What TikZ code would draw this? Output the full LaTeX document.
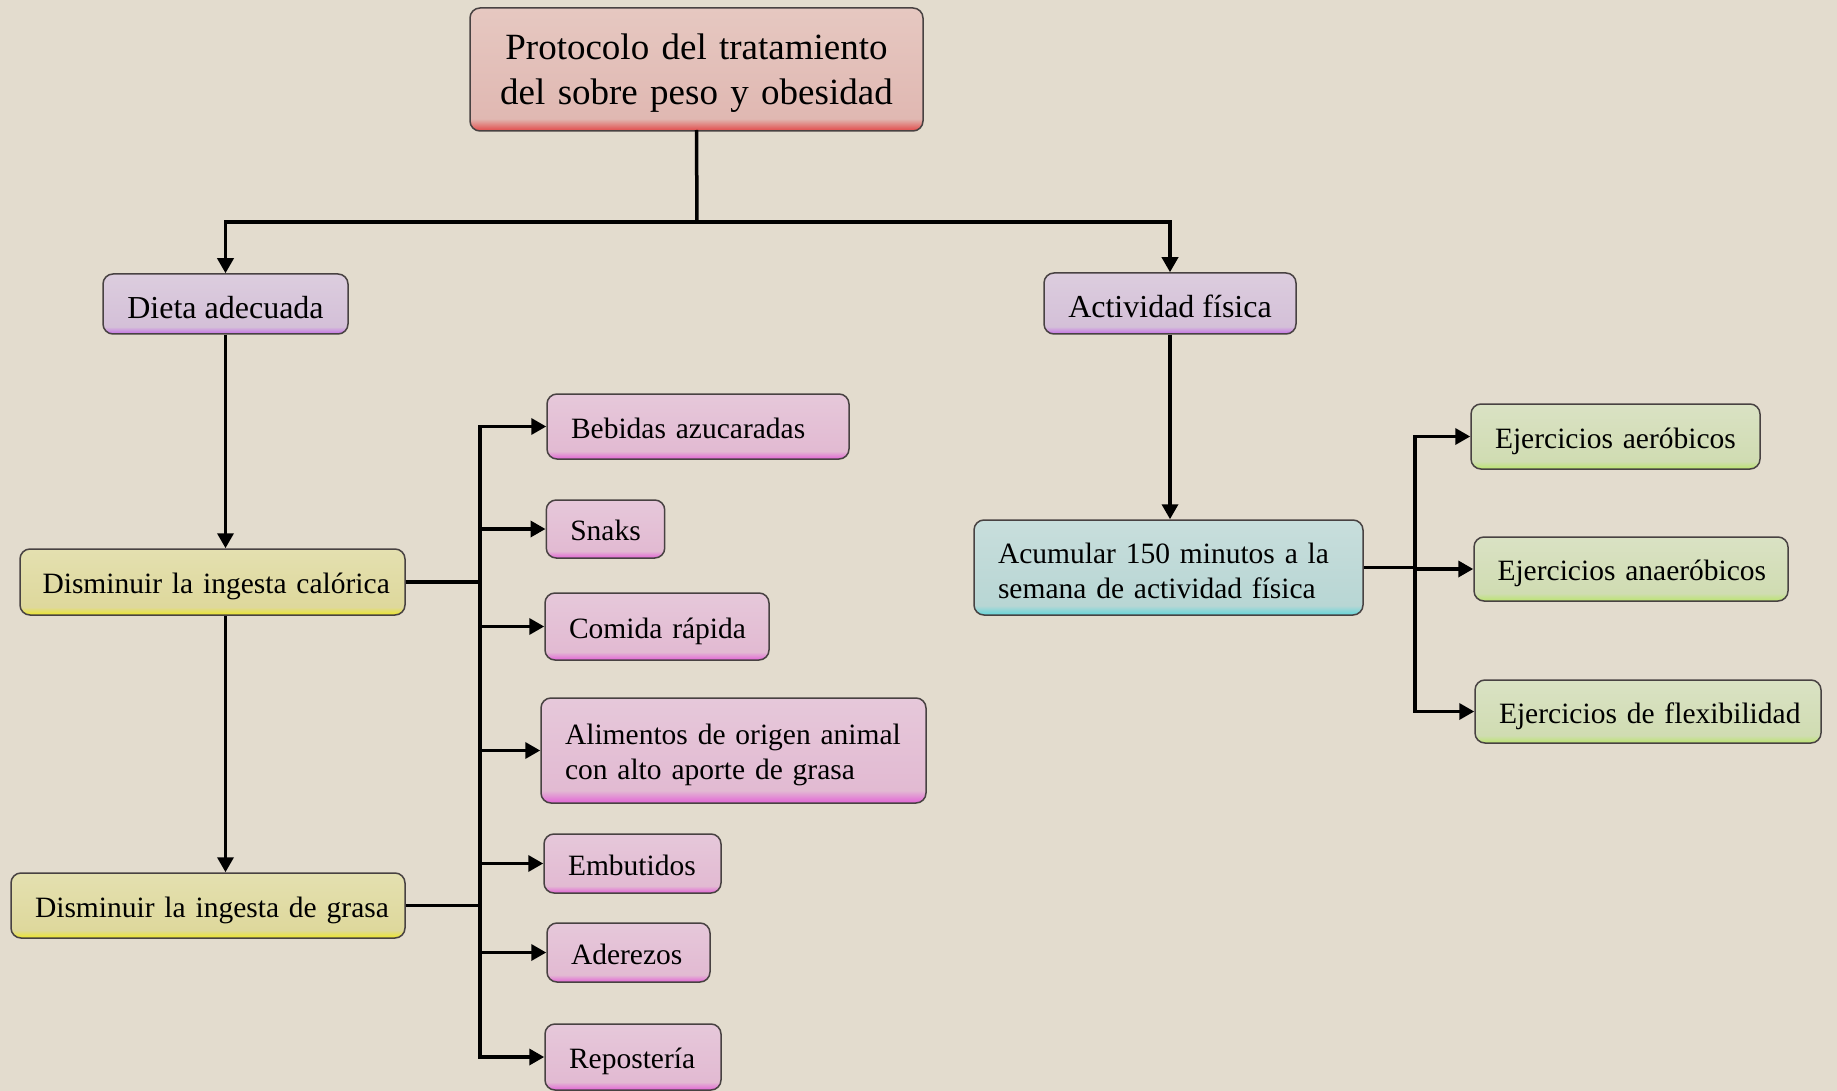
\documentclass[tikz,border=0pt]{standalone}
\usepackage{fontspec}
\setmainfont{Liberation Serif}
\usetikzlibrary{arrows.meta,calc}

\definecolor{bg}{RGB}{227,220,206}
\definecolor{edge}{RGB}{72,66,66}
% title (red)
\definecolor{tTop}{RGB}{230,200,193}
\definecolor{tBase}{RGB}{224,184,178}
\definecolor{tGlow}{RGB}{226,72,72}
% lavender
\definecolor{lTop}{RGB}{220,205,222}
\definecolor{lBase}{RGB}{212,192,216}
\definecolor{lGlow}{RGB}{196,110,230}
% pink
\definecolor{pTop}{RGB}{230,200,218}
\definecolor{pBase}{RGB}{226,186,210}
\definecolor{pGlow}{RGB}{226,100,214}
% yellow
\definecolor{yTop}{RGB}{228,224,176}
\definecolor{yBase}{RGB}{222,216,156}
\definecolor{yGlow}{RGB}{236,230,40}
% cyan
\definecolor{cTop}{RGB}{200,222,220}
\definecolor{cBase}{RGB}{184,214,212}
\definecolor{cGlow}{RGB}{100,214,218}
% green
\definecolor{gTop}{RGB}{218,226,196}
\definecolor{gBase}{RGB}{208,220,178}
\definecolor{gGlow}{RGB}{186,228,110}

\pgfdeclareverticalshading{shT}{100bp}{color(0bp)=(tGlow); color(25bp)=(tGlow); color(30bp)=(tBase); color(75bp)=(tTop); color(100bp)=(tTop)}
\pgfdeclareverticalshading{shL}{100bp}{color(0bp)=(lGlow); color(25bp)=(lGlow); color(31bp)=(lBase); color(75bp)=(lTop); color(100bp)=(lTop)}
\pgfdeclareverticalshading{shP}{100bp}{color(0bp)=(pGlow); color(25bp)=(pGlow); color(31bp)=(pBase); color(75bp)=(pTop); color(100bp)=(pTop)}
\pgfdeclareverticalshading{shY}{100bp}{color(0bp)=(yGlow); color(25bp)=(yGlow); color(31bp)=(yBase); color(75bp)=(yTop); color(100bp)=(yTop)}
\pgfdeclareverticalshading{shC}{100bp}{color(0bp)=(cGlow); color(25bp)=(cGlow); color(30bp)=(cBase); color(75bp)=(cTop); color(100bp)=(cTop)}
\pgfdeclareverticalshading{shG}{100bp}{color(0bp)=(gGlow); color(25bp)=(gGlow); color(31bp)=(gBase); color(75bp)=(gTop); color(100bp)=(gTop)}

\tikzset{
  box/.style={rounded corners=10pt, draw=edge, line width=1.5pt,
    inner xsep=24pt, inner ysep=0pt, align=left, text=black,
    text height=23pt, text depth=0pt,
    font=\fontsize{29.5}{35.4}\selectfont},
  twoline/.style={text height=22pt, text depth=31pt},
  titlebox/.style={box, shading=shT, align=center,
    text height=28pt, text depth=47pt,
    font=\fontsize{37}{45}\selectfont},
  lavbox/.style={box, shading=shL, align=center,
    text height=29pt, text depth=0pt,
    font=\fontsize{32}{38}\selectfont},
  pinkbox/.style={box, shading=shP},
  yelbox/.style={box, shading=shY},
  cyanbox/.style={box, shading=shC},
  grnbox/.style={box, shading=shG},
  conn/.style={line width=3.5pt, draw=black},
  arr/.style={conn, -{Triangle[length=15pt,width=16pt]}}
}

\begin{document}
\begin{tikzpicture}[x=1pt,y=-1pt]
\fill[bg] (0,0) rectangle (1837,1091);
\useasboundingbox (0,0) rectangle (1837,1091);

% nodes
\node[titlebox, minimum width=453pt, minimum height=123pt, text width=405pt] (title) at (696.5,69.5) {\mbox{Protocolo del tratamiento}\\\mbox{del sobre peso y obesidad}};

\node[lavbox, minimum width=245pt, minimum height=60pt] (dieta) at (225.5,304) {Dieta adecuada};
\node[lavbox, minimum width=252pt, minimum height=61pt] (act) at (1170,303.5) {Actividad física};

\node[yelbox, minimum width=385pt, minimum height=66pt, text width=340pt, inner xsep=22.5pt] (calorica) at (212.5,582) {\mbox{Disminuir la ingesta calórica}};
\node[yelbox, minimum width=394pt, minimum height=65pt, text width=346pt] (grasa) at (208,905.5) {\mbox{Disminuir la ingesta de grasa}};

\node[pinkbox, minimum width=302pt, minimum height=65pt, text width=254pt] (bebidas) at (698,426.5) {\mbox{Bebidas azucaradas}};
\node[pinkbox, minimum width=117pt, minimum height=58pt, align=center] (snaks) at (605.5,529) {Snaks};
\node[pinkbox, minimum width=224pt, minimum height=67pt, text width=176pt] (comida) at (657,626.5) {\mbox{Comida rápida}};
\node[pinkbox, twoline, text height=21pt, text depth=33pt, minimum width=385pt, minimum height=105pt, text width=337pt] (alimentos) at (733.5,750.5) {\mbox{Alimentos de origen animal}\\\mbox{con alto aporte de grasa}};
\node[pinkbox, minimum width=177pt, minimum height=59pt, text width=129pt] (embutidos) at (632.5,863.5) {\mbox{Embutidos}};
\node[pinkbox, minimum width=163pt, minimum height=59pt, text width=115pt] (aderezos) at (628.5,952.5) {\mbox{Aderezos}};
\node[pinkbox, minimum width=176pt, minimum height=66pt, text width=128pt] (reposteria) at (633,1057) {\mbox{Repostería}};

\node[cyanbox, twoline, minimum width=389pt, minimum height=95pt, text width=341pt] (acum) at (1168.5,567.5) {\mbox{Acumular 150 minutos a la}\\\mbox{semana de actividad física}};

\node[grnbox, minimum width=289pt, minimum height=65pt, text width=241pt] (aero) at (1615.5,436.5) {\mbox{Ejercicios aeróbicos}};
\node[grnbox, minimum width=314pt, minimum height=64pt, text width=267pt, inner xsep=23.5pt] (anaero) at (1631,569) {\mbox{Ejercicios anaeróbicos}};
\node[grnbox, minimum width=346pt, minimum height=63pt, text width=298pt] (flex) at (1648,711.5) {\mbox{Ejercicios de flexibilidad}};

% connectors: top level
\coordinate (split) at (697,222);
\draw[conn, line cap=rect] (title.south) -- (split);
\draw[arr] (split) -| (dieta.north);
\draw[arr] (split) -| (act.north);

% diet chain
\draw[arr] (dieta.south) -- (dieta.south |- calorica.north);
\draw[arr] (dieta.south |- calorica.south) -- (dieta.south |- grasa.north);

% left bus
\coordinate (busL) at (480,0);
\draw[conn] (calorica.east) -- (calorica.east -| busL);
\draw[conn] (grasa.east) -- (grasa.east -| busL);
\draw[conn, line cap=rect] (busL |- bebidas.west) -- (busL |- reposteria.west);
\foreach \n in {bebidas,snaks,comida,alimentos,embutidos,aderezos,reposteria}
  \draw[arr] (busL |- \n.west) -- (\n.west);

% activity chain
\draw[arr] (act.south) -- (act.south |- acum.north);
\coordinate (busR) at (1415,0);
\draw[conn] (acum.east) -- (acum.east -| busR);
\draw[conn, line cap=rect] (busR |- aero.west) -- (busR |- flex.west);
\foreach \n in {aero,anaero,flex}
  \draw[arr] (busR |- \n.west) -- (\n.west);
\end{tikzpicture}
\end{document}
